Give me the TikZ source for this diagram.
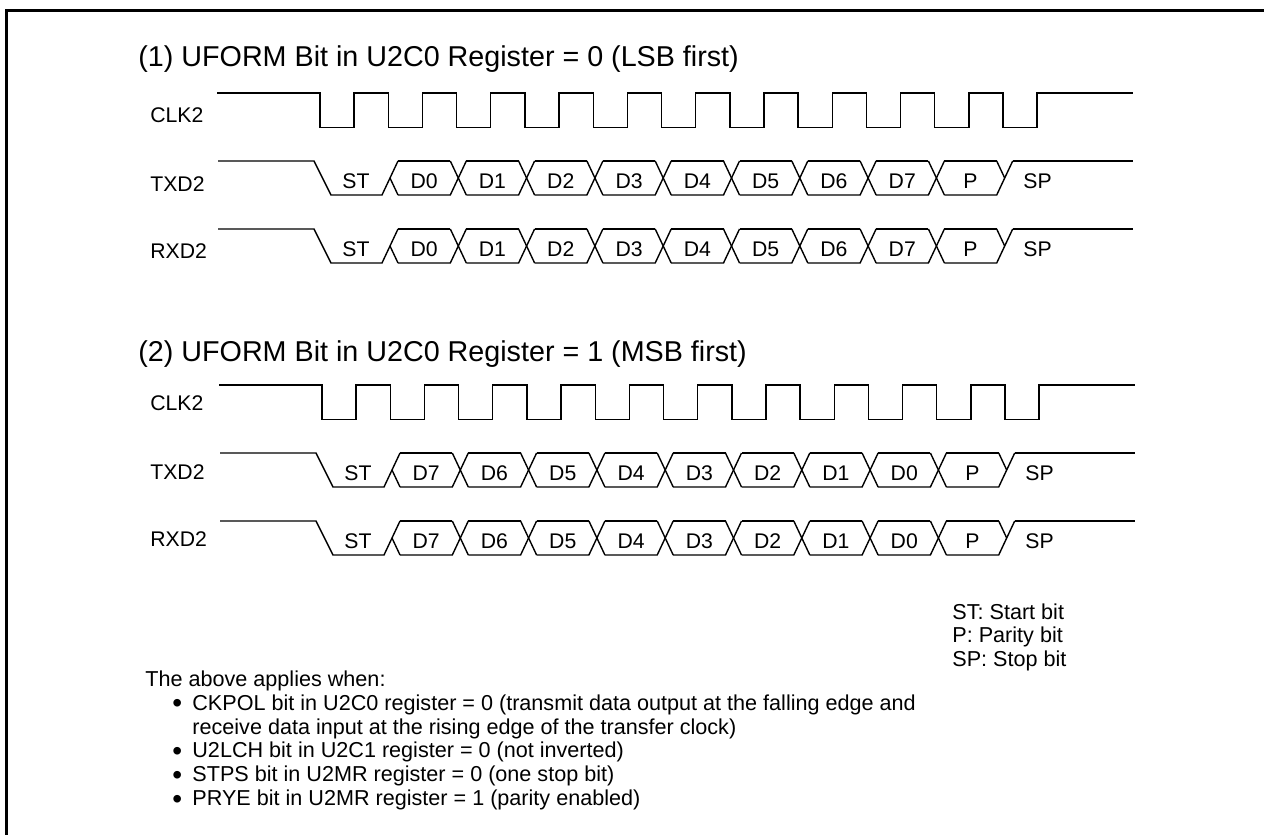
\documentclass[tikz,border=0pt]{standalone}
\usepackage{fontspec}
\setmainfont{Liberation Sans}
\newcommand{\clkrow}[3]{% name, start x, top y
  \coordinate (#1s) at (#2,#3);
  \coordinate (#1e) at (\wend,#3);
  \draw[wave] (#1s) -- (#2+103,#3)
    \foreach \k in {0,...,10} {
      -- ++(0,34.5) -- ++(34.15,0) -- ++(0,-34.5) -- ++(34.15,0)
    } -- (#1e);
}
\newcommand{\datarow}[4]{% name, start x, top y, bit labels
  \coordinate (#1s) at (#2,#3);
  \coordinate (#1e) at (\wend,#3);
  \draw[wave] (#1s) -- (#2+96,#3) -- ++(17,34) -- ++(51,0) -- ++(16,-34);
  \draw[wave] (#2+180,#3+34) -- ++(-8,-17);
  \node[bitlbl] (#1st) at (#2+138,#3+27) {ST};
  \foreach \lbl [count=\n from 0] in {#4} {
    \pgfmathsetmacro{\cx}{#2+172+68.3*\n}
    \draw[wave] (\cx+8,#3) -- (\cx+60.3,#3);
    \draw[wave] (\cx+8,#3+34) -- (\cx+60.3,#3+34) -- (\cx+76.3,#3);
    \ifnum\n<8 \draw[wave] (\cx+60.3,#3) -- (\cx+76.3,#3+34);
    \else \draw[wave] (\cx+60.3,#3) -- (\cx+68.3,#3+17); \fi
    \node[bitlbl] (#1b\n) at (\cx+34.15,#3+27) {\lbl};
  }
  \draw[wave] (#2+794.7,#3) -- (#1e);
  \node[bitlbl] (#1sp) at (#2+819.5,#3+27) {SP};
}
\begin{document}
\begin{tikzpicture}[x=0.5pt,y=-0.5pt,
    wave/.style={line width=0.7pt, line join=miter},
    frameline/.style={line width=1.5pt},
    bitlbl/.style={font=\fontsize{10.6}{12}\selectfont, inner sep=0pt, anchor=base},
    sig/.style={font=\fontsize{10.6}{12}\selectfont, anchor=base west, inner sep=0pt},
    head/.style={font=\fontsize{14.35}{17}\selectfont, anchor=base west, inner sep=0pt},
    note/.style={font=\fontsize{10.8}{12}\selectfont, anchor=base west, inner sep=0pt},
    dotmark/.style={font=\fontsize{14}{14}\selectfont, anchor=base west, inner sep=0pt}]
  \useasboundingbox (0,0) rectangle (1264,835);
  \coordinate (fbl) at (6.5,835);
  \coordinate (ftl) at (6.5,10.5);
  \coordinate (ftr) at (1264,10.5);
  \draw[frameline] (fbl) -- (ftl) -- (ftr);

  % first format
  \def\wend{1133}
  \node[head] (ttl1) at (138,66.7) {(1) UFORM Bit in U2C0 Register = 0 (LSB first)};
  \node[sig] (clkA) at (150,122.7) {CLK2};
  \node[sig] (txdA) at (150,191.7) {TXD2};
  \node[sig] (rxdA) at (150,258.3) {RXD2};
  \clkrow{ca}{217}{93}
  \datarow{ta}{218}{161}{D0,D1,D2,D3,D4,D5,D6,D7,P}
  \datarow{ra}{218}{229}{D0,D1,D2,D3,D4,D5,D6,D7,P}

  % second format
  \def\wend{1134.5}
  \node[head] (ttl2) at (138,361.7) {(2) UFORM Bit in U2C0 Register = 1 (MSB first)};
  \node[sig] (clkB) at (150,410.7) {CLK2};
  \node[sig] (txdB) at (150,479) {TXD2};
  \node[sig] (rxdB) at (150,546.7) {RXD2};
  \clkrow{cb}{219}{385}
  \datarow{tb}{220}{453}{D7,D6,D5,D4,D3,D2,D1,D0,P}
  \datarow{rb}{220}{521}{D7,D6,D5,D4,D3,D2,D1,D0,P}

  % legend
  \node[note] (lgST) at (952,619) {ST: Start bit};
  \node[note] (lgP) at (952,642) {P: Parity bit};
  \node[note] (lgSP) at (952,666) {SP: Stop bit};

  % conditions
  \node[note] (cond0) at (145,686) {The above applies when:};
  \node[dotmark] (dot1) at (172,712.5) {•};
  \node[note] (cond1) at (192,710) {CKPOL bit in U2C0 register = 0 (transmit data output at the falling edge and};
  \node[note] (cond1b) at (192,734) {receive data input at the rising edge of the transfer clock)};
  \node[dotmark] (dot2) at (172,760.2) {•};
  \node[note] (cond2) at (192,757.7) {U2LCH bit in U2C1 register = 0 (not inverted)};
  \node[dotmark] (dot3) at (172,784.2) {•};
  \node[note] (cond3) at (192,781.7) {STPS bit in U2MR register = 0 (one stop bit)};
  \node[dotmark] (dot4) at (172,808.2) {•};
  \node[note] (cond4) at (192,805.7) {PRYE bit in U2MR register = 1 (parity enabled)};
\end{tikzpicture}
\end{document}
